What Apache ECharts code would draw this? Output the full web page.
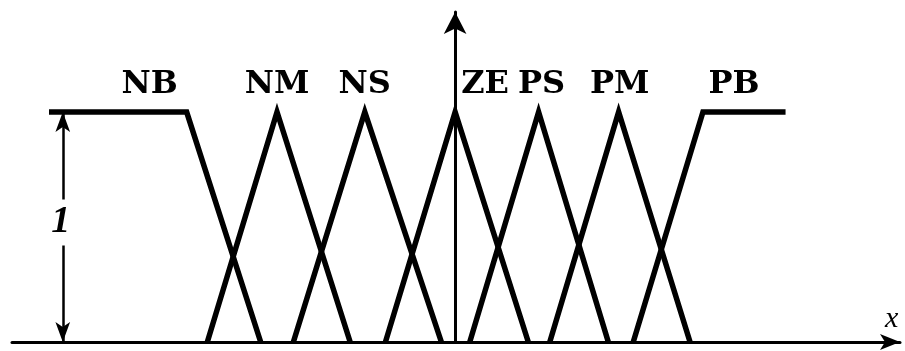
<!DOCTYPE html>
<html>
<head>
<meta charset="utf-8">
<script src="https://cdn.jsdelivr.net/npm/echarts@6/dist/echarts.min.js"></script>
<style>
    html, body { margin: 0; padding: 0; background: #fff; }
    #main { width: 905px; height: 351px; }
</style>
</head>
<body>
<div id="main"></div>
<script>
// 模糊子集名称
var setNames = ['NB', 'NM', 'NS', 'ZE', 'PS', 'PM', 'PB'];

// 各模糊子集隶属函数的折点 [x, 隶属度]
var NB = [[-4.72, 1], [-3.12, 1], [-2.26, 0]];
var NM = [[-2.88, 0], [-2.07, 1], [-1.22, 0]];
var NS = [[-1.88, 0], [-1.05, 1], [-0.16, 0]];
var ZE = [[-0.81, 0], [0, 1], [0.85, 0]];
var PS = [[0.17, 0], [0.97, 1], [1.78, 0]];
var PM = [[1.10, 0], [1.90, 1], [2.73, 0]];
var PB = [[2.07, 0], [2.88, 1], [3.84, 1]];

// 标签所在的折点 (峰值或肩点)
var labelAnchors = [-3.12, -2.07, -1.05, 0, 0.97, 1.90, 2.88];

// 高度 "1" 的标注位置
var unitMarkX = -4.56;

var myChart = echarts.init(document.getElementById('main'));

var sets = [NB, NM, NS, ZE, PS, PM, PB];
var labelShift = [-37, 0, 0, 30, 3, 1, 31];

var series = sets.map(function (pts, i) {
    return {
        name: setNames[i],
        type: 'line',
        data: pts,
        symbol: 'none',
        silent: true,
        lineStyle: { color: '#000', width: 5.5, join: 'miter' },
        z: 3
    };
});

// 双箭头 "1"
series[0].markLine = {
    silent: true,
    symbol: ['arrow', 'arrow'],
    symbolSize: [11, 20],
    label: { show: false },
    lineStyle: { color: '#000', width: 2.5, type: 'solid' },
    data: [[{ coord: [unitMarkX, 0] }, { coord: [unitMarkX, 1] }]]
};

// 子集名称
series.push({
    type: 'scatter',
    symbolSize: 0,
    silent: true,
    itemStyle: { opacity: 1, color: '#000' },
    data: labelAnchors.map(function (x, i) {
        return {
            value: [x, 1],
            name: setNames[i],
            label: { offset: [labelShift[i], -27] }
        };
    }),
    label: {
        show: true,
        position: 'inside',
        formatter: '{b}',
        color: '#000',
        opacity: 1,
        textBorderWidth: 0,
        fontFamily: 'DejaVu Serif',
        fontWeight: 'bold',
        fontSize: 32
    }
});

var option = {
    animation: false,
    backgroundColor: '#fff',
    grid: { left: 12, right: 5, top: 12, bottom: 9 },
    xAxis: {
        type: 'value',
        min: -5.15,
        max: 5.17,
        axisLine: {
            onZero: true,
            symbol: ['none', 'arrow'],
            symbolSize: [12, 20],
            lineStyle: { color: '#000', width: 3 }
        },
        axisTick: { show: false },
        axisLabel: { show: false },
        splitLine: { show: false }
    },
    yAxis: {
        type: 'value',
        min: 0,
        max: 1.435,
        axisLine: {
            show: true,
            onZero: true,
            symbol: ['none', 'arrow'],
            symbolSize: [17, 22],
            lineStyle: { color: '#000', width: 3 }
        },
        axisTick: { show: false },
        axisLabel: { show: false },
        splitLine: { show: false }
    },
    series: series
};

myChart.setOption(option);

// "1" 和 x 文字
var p = myChart.convertToPixel({ gridIndex: 0 }, [unitMarkX, 0.52]);
myChart.setOption({
    graphic: [
        {
            type: 'text',
            x: p[0] - 2,
            y: p[1],
            z: 100,
            style: {
                text: '1',
                font: 'italic bold 38px "Liberation Serif"',
                fill: '#000',
                align: 'center',
                verticalAlign: 'middle',
                backgroundColor: '#fff',
                padding: [4, 2]
            }
        },
        {
            type: 'text',
            x: 885,
            y: 334,
            z: 100,
            style: {
                text: 'x',
                font: 'italic 30px "Liberation Serif"',
                fill: '#000',
                verticalAlign: 'bottom'
            }
        }
    ]
});
</script>
</body>
</html>
